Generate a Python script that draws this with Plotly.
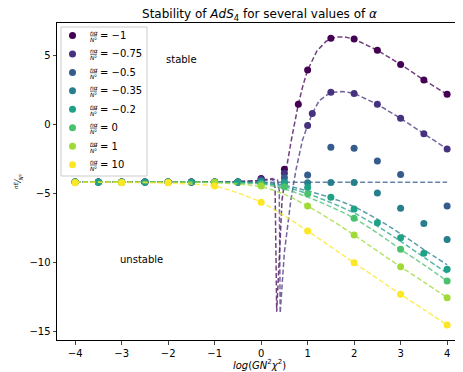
import plotly.graph_objects as go

alphas = ["−1", "−0.75", "−0.5", "−0.35", "−0.2", "0", "1", "10"]
colors = ["#440154", "#46327e", "#365c8d", "#277f8e", "#1fa187", "#4ac16d", "#a0da39", "#fde725"]

left_half = [-4, -3.5, -3, -2.5, -2, -1.5, -1, -0.5]
left_int = [-4, -3, -2, -1]

# numerical points (markers)
pts_x = [
    left_half + [0, 0.5, 0.8, 1, 1.5, 2, 2.5, 3, 3.5, 4],
    left_half + [0, 0.5, 1, 1.1, 1.5, 2, 2.5, 3, 3.5, 4],
    left_half + [0, 0.5, 1, 1.5, 2, 2.5, 3, 4],
    left_half + [0, 0.5, 1, 1.5, 2, 2.5, 3, 3.5, 4],
    left_half + [0, 0.5, 1, 1.5, 2, 2.5, 3, 3.5, 4],
    left_int + [0, 0.5, 1, 2, 3, 4],
    left_int + [0, 1, 2, 3, 4],
    left_int + [0, 1, 2, 3, 4],
]
pts_y = [
    [-4.2] * 8 + [-3.95, -3.28, 1.43, 3.91, 6.21, 6.16, 5.34, 4.32, 3.19, 2.15],
    [-4.2] * 8 + [-4.0, -3.57, -0.1, 0.77, 2.3, 2.22, 1.43, 0.41, -0.70, -1.81],
    [-4.2] * 8 + [-4.1, -3.9, -3.7, -1.69, -1.76, -2.68, -3.65, -5.94],
    [-4.2] * 8 + [-4.15, -4.2, -4.25, -4.23, -4.23, -5.0, -6.11, -7.2, -8.36],
    [-4.22] * 8 + [-4.25, -4.3, -4.6, -5.31, -6.16, -7.15, -8.24, -9.37, -10.53],
    [-4.22] * 4 + [-4.35, -4.55, -5.05, -6.83, -9.08, -11.38],
    [-4.22] * 4 + [-4.5, -5.94, -8.04, -10.34, -12.58],
    [-4.25, -4.25, -4.25, -4.49, -5.67, -7.75, -10.05, -12.34, -14.57],
]

# analytic curves (dashed)
std_x = [-4, -3, -2, -1.5, -1, -0.5, 0, 0.5, 1, 1.5, 2, 2.5, 3, 3.5, 4]
line_x = [
    [-4, -3, -2, -1, -0.5, 0, 0.15, 0.25, 0.30, 0.335, 0.45, 0.55, 0.65, 0.8, 0.9, 1.0, 1.2, 1.4, 1.6, 1.8, 2.0, 2.5, 3, 3.5, 4],
    [-4, -3, -2, -1, -0.5, 0, 0.2, 0.35, 0.39, 0.41, 0.5, 0.64, 0.75, 0.89, 1.0, 1.1, 1.25, 1.5, 1.75, 2, 2.5, 3, 3.5, 4],
    [-4, 4],
    std_x, std_x, std_x, std_x, std_x,
]
line_y = [
    [-4.2, -4.2, -4.2, -4.2, -4.18, -4.08, -4.0, -3.95, -4.6, -13.6, -5.5, -3.1, -1.16, 1.43, 2.8, 3.91, 5.3, 6.0, 6.3, 6.3, 6.16, 5.34, 4.32, 3.19, 2.15],
    [-4.2, -4.2, -4.2, -4.2, -4.18, -4.1, -4.02, -4.0, -4.8, -13.7, -9.3, -5.5, -3.3, -1.16, -0.1, 0.77, 1.7, 2.3, 2.35, 2.22, 1.43, 0.41, -0.70, -1.81],
    [-4.22, -4.22],
    [-4.2, -4.2, -4.2, -4.2, -4.2, -4.22, -4.25, -4.45, -4.85, -5.35, -6.0, -6.9, -7.95, -9.1, -10.2],
    [-4.2, -4.2, -4.2, -4.2, -4.21, -4.24, -4.3, -4.55, -5.05, -5.7, -6.45, -7.4, -8.5, -9.65, -10.8],
    [-4.2, -4.2, -4.2, -4.2, -4.22, -4.27, -4.35, -4.7, -5.3, -6.0, -6.83, -7.9, -9.08, -10.2, -11.38],
    [-4.2, -4.2, -4.21, -4.22, -4.25, -4.35, -4.55, -5.1, -5.94, -6.95, -8.04, -9.2, -10.34, -11.45, -12.58],
    [-4.22, -4.23, -4.28, -4.35, -4.5, -5.0, -5.67, -6.65, -7.75, -8.9, -10.05, -11.2, -12.34, -13.45, -14.57],
]

x_ticks = [-4, -3, -2, -1, 0, 1, 2, 3, 4]
y_ticks = [5, 0, -5, -10, -15]

# ---- figure geometry (page has an 8px body margin) ----
W, H = 455, 364
ML, MR, MT, MB = 49, 1, 15, 32
PW, PH = W - ML - MR, H - MT - MB
OFF = 8


def px(xpage):
    return (xpage - OFF - ML) / PW


def py(ypage):
    return 1 - (ypage - OFF - MT) / PH


fig = go.Figure()
for i in range(len(alphas)):
    fig.add_trace(go.Scatter(
        x=pts_x[i], y=pts_y[i], mode="markers",
        marker=dict(color=colors[i], size=7, line=dict(width=0)),
        name="nα/N² = " + alphas[i], showlegend=False,
    ))
    shape = "linear" if i < 3 else "spline"
    fig.add_trace(go.Scatter(
        x=line_x[i], y=line_y[i], mode="lines",
        line=dict(color=colors[i], width=1.5, dash="5px,2.5px", shape=shape),
        opacity=0.75, showlegend=False, hoverinfo="skip",
    ))

fig.add_annotation(x=-1.72, y=4.7, text="stable", showarrow=False,
                   font=dict(size=10, color="black"))
fig.add_annotation(x=-2.58, y=-9.85, text="unstable", showarrow=False,
                   font=dict(size=10, color="black"))

# ---- legend drawn in matplotlib style ----
shapes = [dict(type="rect", xref="paper", yref="paper",
               x0=px(61), x1=px(147), y0=py(176), y1=py(27),
               line=dict(color="#cccccc", width=1), fillcolor="rgba(255,255,255,0.8)",
               layer="above")]
for i in range(len(alphas)):
    yc = 35.5 + 18.45 * i
    shapes.append(dict(type="circle", xref="paper", yref="paper",
                       xsizemode="pixel", ysizemode="pixel",
                       xanchor=px(72.5), yanchor=py(yc),
                       x0=-3.5, x1=3.5, y0=-3.5, y1=3.5,
                       fillcolor=colors[i], line=dict(width=0), layer="above"))
    # small stacked fraction nα / N²
    fig.add_annotation(xref="paper", yref="paper", x=px(93.5), y=py(yc - 3.2),
                       text="<i>nα</i>", showarrow=False, xanchor="center", yanchor="middle",
                       font=dict(size=6), borderpad=0)
    fig.add_annotation(xref="paper", yref="paper", x=px(93.5), y=py(yc + 3.8),
                       text="<i>N</i>²", showarrow=False, xanchor="center", yanchor="middle",
                       font=dict(size=6), borderpad=0)
    shapes.append(dict(type="line", xref="paper", yref="paper",
                       x0=px(90), x1=px(97), y0=py(yc + 0.3), y1=py(yc + 0.3),
                       line=dict(color="black", width=0.6), layer="above"))
    fig.add_annotation(xref="paper", yref="paper", x=px(98.5), y=py(yc),
                       text="= " + alphas[i], showarrow=False, xanchor="left", yanchor="middle",
                       font=dict(size=10), borderpad=0)

fig.update_layout(
    width=W, height=H,
    margin=dict(l=ML, r=MR, t=MT, b=MB),
    paper_bgcolor="white", plot_bgcolor="white",
    font=dict(family="DejaVu Sans", size=10, color="black"),
    title=dict(text="Stability of <i>AdS</i><sub>4</sub> for several values of <i>α</i>",
               x=(ML + PW / 2) / W, xanchor="center",
               y=1 - 6 / H, yref="container", yanchor="middle",
               font=dict(size=12), pad=dict(t=0, b=0)),
    shapes=shapes,
    showlegend=False,
)
fig.update_xaxes(range=[-4.39, 4.32], tickvals=x_ticks, ticks="outside", ticklen=3.5,
                 showline=True, linecolor="black", linewidth=1, mirror=True,
                 showgrid=False, zeroline=False,
                 title=dict(text="<i>log</i>(<i>GN</i><sup>2</sup><i>χ</i><sup>2</sup>)", standoff=2,
                            font=dict(size=10)))
fig.update_yaxes(range=[-15.65, 7.32], tickvals=y_ticks, ticks="outside", ticklen=3.5,
                 showline=True, linecolor="black", linewidth=1, mirror=True,
                 showgrid=False, zeroline=False,
                 title=dict(text="<sup><i>nE</i></sup>⁄<sub><i>N</i>²</sub>", standoff=6,
                            font=dict(size=8)))

fig.write_html("out.html")
